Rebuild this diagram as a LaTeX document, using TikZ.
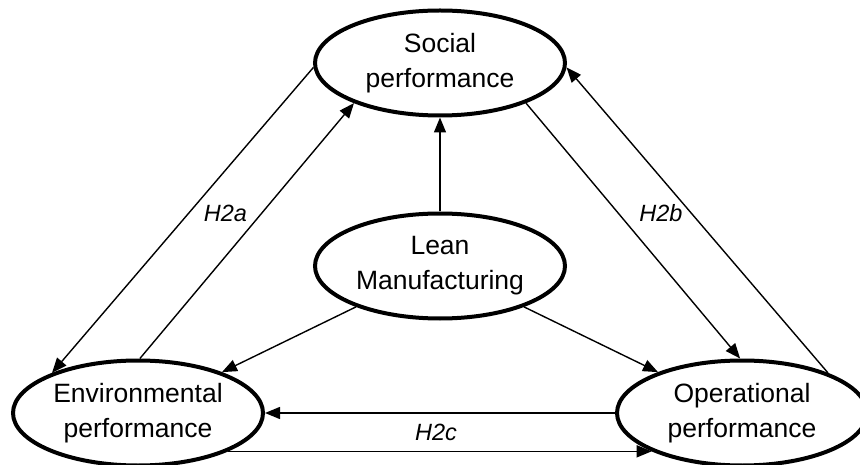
\documentclass[tikz,border=0pt]{standalone}
\usepackage{fontspec}
\setmainfont{Liberation Sans}
\usetikzlibrary{shapes.geometric,arrows.meta}
\begin{document}
\begin{tikzpicture}[x=1pt,y=-1pt,
  construct/.style={ellipse,draw,line width=4pt,minimum width=250pt,
    minimum height=105pt,inner sep=0pt,align=center,
    font=\fontsize{26.5pt}{35pt}\selectfont},
  link/.style={line width=1.4pt,-{Triangle[length=15pt,width=12pt]}},
  hyp/.style={font=\fontsize{23.5pt}{28pt}\selectfont\itshape,inner sep=0pt}]
\fill[white] (0,0) rectangle (860,465);
\useasboundingbox (0,0) rectangle (860,465);

% constructs
\node[construct] (soc)  at (440,63)  {Social\\performance};
\node[construct] (lean) at (440,266) {Lean\\Manufacturing};
\node[construct] (env)  at (138,413) {Environmental\\performance};
\node[construct] (op)   at (742,413) {Operational\\performance};

% direct effects of lean manufacturing
\draw[link] (lean) -- (soc);
\draw[link] (lean) -- (env);
\draw[link] (lean) -- (op);

% H2a: social <-> environmental
\draw[link] (soc.182) -- (env.155);
\draw[link] (env.88) -- (soc.205);

% H2b: social <-> operational
\draw[link] (soc.335) -- (op.92);
\draw[link] (op.25) -- (soc.358);

% H2c: operational <-> environmental
\draw[link] (op) -- (env);
\draw[link] (env.-23) -- (op.203);

% hypothesis labels
\node[hyp] (h2a) at (225.5,213.5) {H2a};
\node[hyp] (h2b) at (661,213.5) {H2b};
\node[hyp] (h2c) at (436,432) {H2c};
\end{tikzpicture}
\end{document}
